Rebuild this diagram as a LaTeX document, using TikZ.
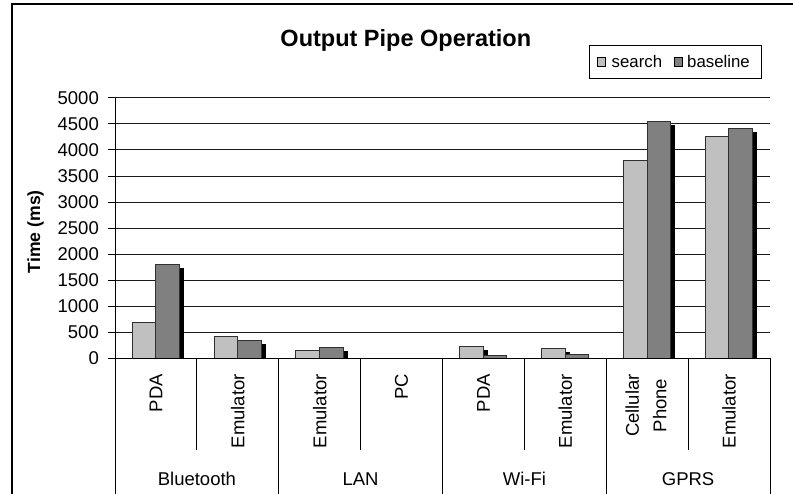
\documentclass[tikz,border=0pt]{standalone}
\usepackage{fontspec}
\setmainfont{Liberation Sans}
\definecolor{srch}{HTML}{C0C0C0}
\definecolor{basec}{HTML}{808080}
\definecolor{edgec}{HTML}{303030}
\begin{document}
\begin{tikzpicture}[x=1pt,y=-1pt,
  gridline/.style={line width=1pt, black!90},
  axisline/.style={line width=1pt, black},
  sbar/.style={fill=srch, draw=edgec, line width=1pt},
  bbar/.style={fill=basec, draw=edgec, line width=1pt},
  shad/.style={fill=black, draw=none},
  ticklab/.style={font=\fontsize{18.5}{22}\selectfont, inner sep=0pt},
  catlab/.style={font=\fontsize{18.5}{27.4}\selectfont, inner sep=0pt, rotate=90, anchor=east, align=center},
  grplab/.style={font=\fontsize{18.5}{22}\selectfont, inner sep=0pt, anchor=base},
  leglab/.style={font=\fontsize{16.8}{20}\selectfont, inner sep=0pt, anchor=base west},
]
\useasboundingbox (0,0) rectangle (793,494);
% outer frame
\draw[line width=2pt] (793,4.3) -- (12,4.3) -- (12,494);
% title
\node[font=\fontsize{23.5}{28}\selectfont\bfseries, inner sep=0pt, anchor=base] (title) at (405.8,46.7) {Output Pipe Operation};
% legend
\node[draw=black, line width=1pt, minimum width=171.7pt, minimum height=32.3pt, inner sep=0pt] (legend) at (675.15,62.15) {};
\node[fill=srch, draw=black, line width=0.8pt, minimum width=8pt, minimum height=9pt, inner sep=0pt] (ks) at (601,62) {};
\node[leglab] (ls) at (611.5,67.7) {search};
\node[fill=basec, draw=black, line width=0.8pt, minimum width=8pt, minimum height=9pt, inner sep=0pt] (kb) at (678,62) {};
\node[leglab] (lb) at (687,67.7) {baseline};
% y axis title
\node[font=\fontsize{17.6}{20}\selectfont\bfseries, rotate=90, inner sep=0pt] (ytitle) at (35.5,231.7) {Time (ms)};
% gridlines, ticks and labels
\foreach \v in {500,1000,...,5000}{
  \pgfmathsetmacro\yy{358.3-0.05208*\v}
  \draw[gridline] (115,\yy) -- (770,\yy);
}
\foreach \v in {0,500,...,5000}{
  \pgfmathsetmacro\yy{358.3-0.05208*\v}
  \draw[axisline] (108,\yy) -- (115,\yy);
  \node[ticklab, anchor=east] (yl\v) at (99,\yy) {\v};
}
% shadows
\foreach \i/\s/\b in {0/690/1810, 1/420/350, 2/155/198, 4/232/45, 5/190/80, 6/3795/4540, 7/4268/4420}{
  \pgfmathsetmacro\xa{115+81.875*\i+17.2}
  \pgfmathsetmacro\xb{\xa+23.6}
  \pgfmathsetmacro\xc{\xb+23.6}
  \pgfmathsetmacro\ys{min(358.3-0.05208*\s+3.5,358.3)}
  \pgfmathsetmacro\yb{min(358.3-0.05208*\b+3.5,358.3)}
  \fill[shad] (\xa+4.5,\ys) rectangle (\xb+4.5,358.3);
  \fill[shad] (\xb+4.5,\yb) rectangle (\xc+4.5,358.3);
}
% bars
\foreach \i/\s/\b in {0/690/1810, 1/420/350, 2/155/198, 4/232/45, 5/190/80, 6/3795/4540, 7/4268/4420}{
  \pgfmathsetmacro\xa{115+81.875*\i+17.2}
  \pgfmathsetmacro\xb{\xa+23.6}
  \pgfmathsetmacro\xc{\xb+23.6}
  \pgfmathsetmacro\ys{358.3-0.05208*\s}
  \pgfmathsetmacro\yb{358.3-0.05208*\b}
  \draw[sbar] (\xa,\ys) rectangle (\xb,358.3);
  \draw[bbar] (\xb,\yb) rectangle (\xc,358.3);
}
% axes
\draw[axisline] (115,97.9) -- (115,358.3);
\draw[axisline] (108,358.3) -- (770,358.3);
% category separators
\foreach \x in {115,278.75,442.5,606.25,770}
  \draw[axisline] (\x,358.3) -- (\x,494);
\foreach \x in {196.9,360.6,524.4,688.1}
  \draw[axisline] (\x,358.3) -- (\x,450);
% category labels
\node[catlab] (c0) at (156,374) {PDA};
\node[catlab] (c1) at (237.8,374) {Emulator};
\node[catlab] (c2) at (319.7,374) {Emulator};
\node[catlab] (c3) at (401.5,374) {PC};
\node[catlab] (c4) at (483.4,374) {PDA};
\node[catlab] (c5) at (565.3,374) {Emulator};
\node[catlab] (c6) at (646,374) {Cellular\\Phone};
\node[catlab] (c7) at (729,374) {Emulator};
% group labels
\node[grplab] (g0) at (196.9,485) {Bluetooth};
\node[grplab] (g1) at (360.6,485) {LAN};
\node[grplab] (g2) at (524.4,485) {Wi-Fi};
\node[grplab] (g3) at (688.1,485) {GPRS};
\end{tikzpicture}
\end{document}
